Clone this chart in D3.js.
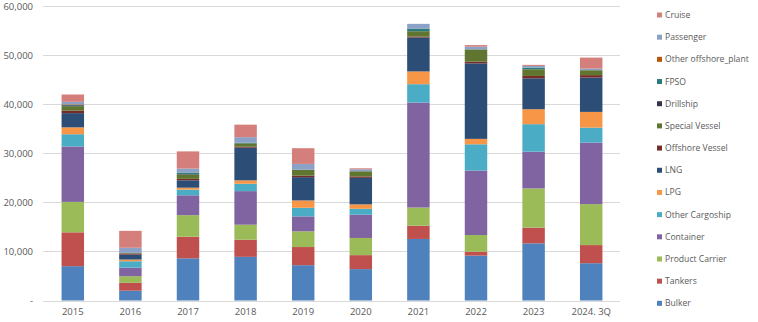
<!DOCTYPE html>
<html>
<head>
<meta charset="utf-8">
<script src="https://cdn.jsdelivr.net/npm/d3@7"></script>
<style>
  html, body { margin: 0; padding: 0; background: #fff; }
  svg { display: block; }
  text { font-family: "Open Sans", "Liberation Sans", sans-serif; fill: #595959; }
</style>
</head>
<body>
<svg id="chart" width="758" height="322"></svg>
<script>
// Order volume by ship type (stacked from Bulker at the bottom up to Cruise)
const years = ["2015", "2016", "2017", "2018", "2019", "2020", "2021", "2022", "2023", "2024. 3Q"];
const seriesNames = ["Bulker", "Tankers", "Product Carrier", "Container", "Other Cargoship", "LPG", "LNG",
  "Offshore Vessel", "Special Vessel", "Drillship", "FPSO", "Other offshore_plant", "Passenger", "Cruise"];
const bulker         = [7000, 2000, 8600, 8900, 7200, 6400, 12550, 9150, 11650, 7600];
const tankers        = [6900, 1600, 4400, 3500, 3700, 2850, 2700, 800, 3200, 3700];
const productCarrier = [6200, 1350, 4400, 3050, 3200, 3500, 3700, 3400, 8000, 8350];
const container      = [11300, 1750, 4050, 6850, 3050, 4750, 21400, 13150, 7500, 12550];
const otherCargoship = [2500, 1300, 1150, 1500, 1750, 1200, 3750, 5350, 5600, 3050];
const lpg            = [1400, 350, 400, 700, 1500, 900, 2600, 1100, 3050, 3200];
const lng            = [2900, 1000, 1500, 6650, 4750, 5400, 6900, 15400, 6300, 7000];
const offshoreVessel = [500, 200, 300, 200, 300, 300, 200, 350, 480, 500];
const specialVessel  = [900, 100, 900, 700, 1200, 1050, 1100, 2500, 1360, 1000];
const drillship      = [200, 100, 100, 0, 0, 0, 0, 0, 0, 0];
const fpso           = [100, 0, 300, 100, 0, 0, 550, 0, 340, 0];
const otherOffshore  = [100, 0, 0, 0, 0, 0, 0, 0, 0, 0];
const passenger      = [500, 1000, 800, 1150, 1200, 400, 950, 550, 340, 340];
const cruise         = [1500, 3450, 3500, 2550, 3200, 200, 0, 330, 220, 2230];
const yTicks = [0, 10000, 20000, 30000, 40000, 50000, 60000];

const seriesValues = [bulker, tankers, productCarrier, container, otherCargoship, lpg, lng,
  offshoreVessel, specialVessel, drillship, fpso, otherOffshore, passenger, cruise];
const colors = ["#4F81BD", "#C0504D", "#9BBB59", "#8064A2", "#4BACC6", "#F79646", "#2C4D75",
  "#772C2A", "#5F7530", "#33354F", "#2B7A7E", "#B65708", "#8CA1C8", "#D47F7B"];

// Build row objects for d3.stack
const rows = years.map((yr, i) => {
  const r = { year: yr };
  seriesNames.forEach((s, k) => { r[s] = seriesValues[k][i]; });
  return r;
});
const stacked = d3.stack().keys(seriesNames)(rows);

const svg = d3.select("#chart");
const x = d3.scaleBand().domain(years).range([44, 620]).paddingInner(0.61).paddingOuter(0.305);
const y = d3.scaleLinear().domain([0, 60000]).range([300.5, 6.2]);
const color = d3.scaleOrdinal().domain(seriesNames).range(colors);

// Gridlines
svg.append("g")
  .selectAll("line")
  .data(yTicks)
  .join("line")
  .attr("x1", 43).attr("x2", 620)
  .attr("y1", d => Math.round(y(d)) + 0.5).attr("y2", d => Math.round(y(d)) + 0.5)
  .attr("stroke", "#D9D9D9").attr("stroke-width", 1);

// Y axis labels
const yAxis = d3.axisLeft(y).tickValues(yTicks).tickSize(0).tickPadding(0)
  .tickFormat(d => d === 0 ? "-" : d3.format(",")(d));
svg.append("g")
  .attr("transform", "translate(33,0)")
  .call(yAxis)
  .call(g => g.select(".domain").remove())
  .call(g => g.selectAll("text").attr("font-size", "9.5px").attr("fill", "#595959")
    .style("font-family", "'Open Sans', 'Liberation Sans', sans-serif"));

// Bars
svg.append("g")
  .selectAll("g")
  .data(stacked)
  .join("g")
  .attr("fill", d => color(d.key))
  .selectAll("rect")
  .data(d => d)
  .join("rect")
  .attr("x", d => x(d.data.year))
  .attr("width", x.bandwidth())
  .attr("y", d => y(d[1]))
  .attr("height", d => Math.max(0, y(d[0]) - y(d[1])));

// X axis labels
const xAxis = d3.axisBottom(x).tickSize(0).tickPadding(0);
svg.append("g")
  .attr("transform", "translate(0,308)")
  .call(xAxis)
  .call(g => g.select(".domain").remove())
  .call(g => g.selectAll("text").attr("font-size", "9.5px").attr("fill", "#595959")
    .style("font-family", "'Open Sans', 'Liberation Sans', sans-serif"));

// Legend (top entry is the last series)
const legendNames = seriesNames.slice().reverse();
const legend = svg.append("g")
  .selectAll("g")
  .data(legendNames)
  .join("g")
  .attr("transform", (d, i) => `translate(657,${15 + i * 22.18})`);
legend.append("rect")
  .attr("x", 0).attr("y", -2.5).attr("width", 5).attr("height", 5)
  .attr("fill", d => color(d));
legend.append("text")
  .attr("x", 8).attr("y", 0).attr("dy", "0.35em")
  .attr("font-size", "8.6px")
  .text(d => d === "Bulker" ? " Bulker" : d);
</script>
</body>
</html>
